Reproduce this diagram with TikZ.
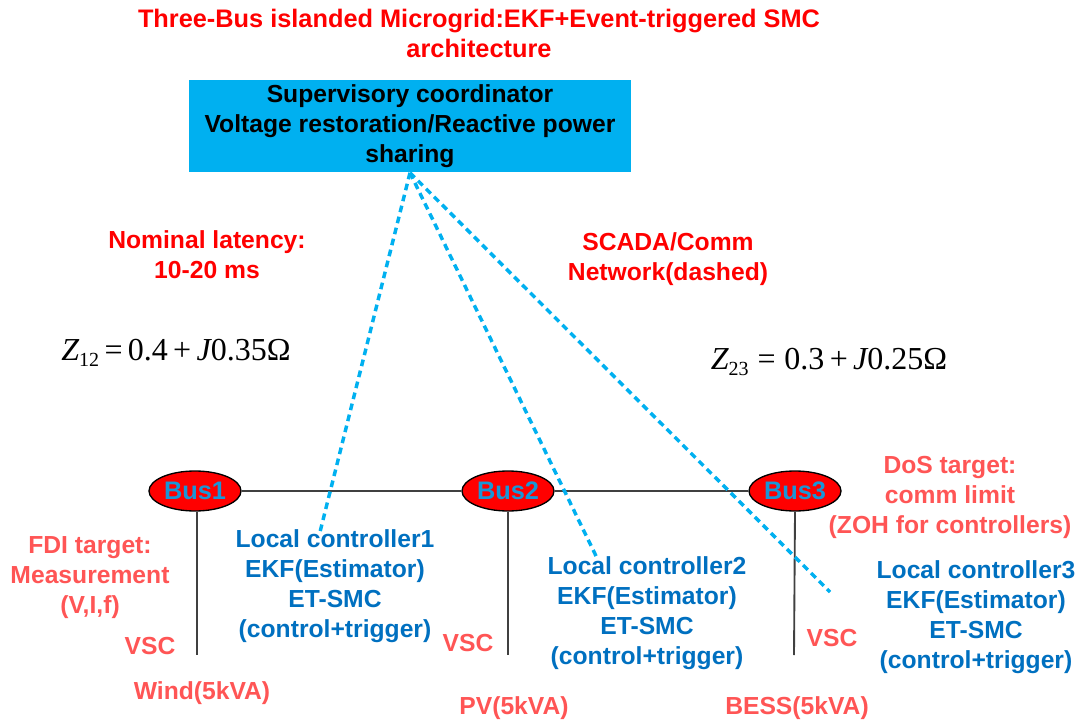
\documentclass[tikz,border=0pt]{standalone}
\usepackage{fontspec}
\setmainfont{Liberation Sans}
\newfontfamily\zfont{Liberation Serif}
\usetikzlibrary{shapes.geometric}
\definecolor{titlered}{RGB}{255,0,0}
\definecolor{softred}{RGB}{255,85,85}
\definecolor{ctrlblue}{RGB}{0,112,192}
\definecolor{skyblue}{RGB}{0,176,240}
\definecolor{buslbl}{RGB}{25,150,215}
\definecolor{wire}{RGB}{64,64,64}
\tikzset{
  txt/.style={font=\fontsize{18.5}{22.5}\selectfont\bfseries, align=center, inner sep=0pt},
  ttl/.style={txt, text=titlered},
  ann/.style={txt, text=softred},
  ctrl/.style={txt, text=ctrlblue},
  busnode/.style={ellipse, draw=black, line width=1pt, fill=titlered, minimum width=69pt, minimum height=30pt, inner sep=0pt, font=\fontsize{19}{22.5}\selectfont\bfseries, text=buslbl},
  supbox/.style={rectangle, fill=skyblue, minimum width=331.5pt, minimum height=69pt, inner sep=0pt, font=\fontsize{18.5}{22.5}\selectfont\bfseries, align=center},
  comm/.style={draw=skyblue, line width=2.6pt, dash pattern=on 5pt off 3.5pt},
  busline/.style={draw=wire, line width=1.4pt},
  imp/.style={font=\zfont\fontsize{24}{28}\selectfont, inner sep=0pt}
}
\begin{document}
\begin{tikzpicture}[x=0.75pt, y=-0.75pt]
\useasboundingbox (0,0) rectangle (1081,723);
% title
\node[ttl, font=\fontsize{19}{22.5}\selectfont\bfseries] (title) at (479,33) {Three-Bus islanded Microgrid:EKF+Event-triggered SMC\\architecture};
% supervisory box
\node[supbox] (sup) at (410,126.5) {Supervisory coordinator\\Voltage restoration/Reactive power\\sharing};
% annotations
\node[ttl] (lat) at (207,255) {Nominal latency:\\10-20 ms};
\node[ttl] (scada) at (668,259) {SCADA/Comm\\Network(dashed)};
\node[imp] (z12) at (176,353) {\itshape Z\upshape\raisebox{-0.4ex}{\fontsize{15}{15}\selectfont 12}\,=\,0.4\,+\,\itshape J\upshape 0.35Ω};
\node[imp] (z23) at (829,362) {\itshape Z\upshape\raisebox{-0.4ex}{\fontsize{15}{15}\selectfont 23}\;=\;0.3\,+\,\itshape J\upshape 0.25Ω};
% buses
\node[busnode] (bus1) at (195,491) {Bus1};
\node[busnode] (bus2) at (508,491) {Bus2};
\node[busnode] (bus3) at (795,491) {Bus3};
\draw[busline] (bus1.east) -- (bus2.west);
\draw[busline] (bus2.east) -- (bus3.west);
\coordinate (g1) at (197,655);
\coordinate (g2) at (508,655);
\coordinate (g3) at (794,655);
\draw[busline] (bus1.south) ++(2,0) -- (g1);
\draw[busline] (bus2.south) -- (g2);
\draw[busline] (bus3.south) -- (g3);
% comm lines
\coordinate (c1) at (320,532);
\coordinate (c2) at (597,558);
\coordinate (c3) at (830,592);
\draw[comm] (sup.south) -- (c1);
\draw[comm] (sup.south) -- (c2);
\draw[comm] (sup.south) -- (c3);
% attack annotations
\node[ann] (fdi) at (90,578) {FDI target:\\Measurement\\(V,I,f)};
\node[ann] (dos) at (950,497) {DoS target:\\comm limit\\(ZOH for controllers)};
% local controllers
\node[ctrl] (lc1) at (335,586) {Local controller1\\EKF(Estimator)\\ET-SMC\\(control+trigger)};
\node[ctrl] (lc2) at (647,613) {Local controller2\\EKF(Estimator)\\ET-SMC\\(control+trigger)};
\node[ctrl] (lc3) at (976,617) {Local controller3\\EKF(Estimator)\\ET-SMC\\(control+trigger)};
% VSC and sources
\node[ann] (vsc1) at (150,646) {VSC};
\node[ann] (vsc2) at (468,643) {VSC};
\node[ann] (vsc3) at (832,638) {VSC};
\node[ann] (wind) at (202,693) {Wind(5kVA)};
\node[ann] (pv) at (514,708) {PV(5kVA)};
\node[ann] (bess) at (797,708) {BESS(5kVA)};
\end{tikzpicture}
\end{document}
